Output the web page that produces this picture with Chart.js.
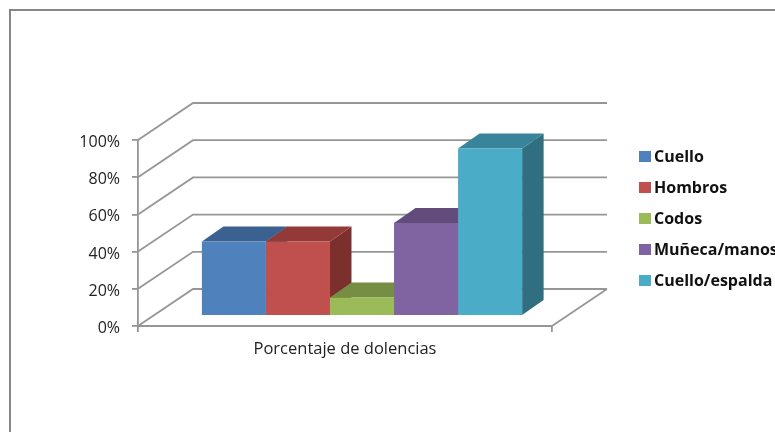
<!DOCTYPE html>
<html>
<head>
<meta charset="utf-8">
<title>Porcentaje de dolencias</title>
<script src="https://cdn.jsdelivr.net/npm/chart.js@4"></script>
<style>
html, body { margin: 0; padding: 0; width: 775px; height: 432px; overflow: hidden; background: #fff; }
canvas { display: block; }
#legend { position: absolute; left: 639px; top: 141px; white-space: nowrap; font: bold 16px "Open Sans"; color: #111; }
#legend div { height: 31px; line-height: 31px; }
#legend span { display: inline-block; width: 12px; height: 11px; margin-right: 3px; }
</style>
</head>
<body>
<canvas id="myChart" width="775" height="432"></canvas>
<div id="legend"></div>
<script>
const categories = ['Porcentaje de dolencias'];
const seriesNames = ['Cuello', 'Hombros', 'Codos', 'Muñeca/manos', 'Cuello/espalda'];
const seriesValues = [40, 40, 10, 50, 90];
const frontColors = ['#4F81BD', '#C0504D', '#9BBB59', '#8064A2', '#4BACC8'];
const topColors = ['#3A6190', '#933A38', '#768E43', '#624C7C', '#38859B'];
const sideColors = ['#2F5078', '#7C302E', '#637738', '#523F68', '#306E80'];

const lineColor = '#969696';
const wallX = 55, wallY = -37;      // depth of the floor/back wall
const barShiftX = 17, barShiftY = -10;  // bars stand in the middle of the floor
const barDepthX = 21.5, barDepthY = -15;

const frame3d = {
    id: 'frame3d',
    beforeDraw(chart) {
        // outer frame, only top and left show in the window
        const ctx = chart.ctx;
        ctx.save();
        ctx.strokeStyle = '#868686';
        ctx.lineWidth = 2;
        ctx.beginPath();
        ctx.moveTo(10, chart.height);
        ctx.lineTo(10, 10);
        ctx.lineTo(chart.width, 10);
        ctx.stroke();
        ctx.restore();
    },
    beforeDatasetsDraw(chart) {
        const ctx = chart.ctx;
        const area = chart.chartArea;
        const y = chart.scales.y;

        ctx.save();
        ctx.strokeStyle = lineColor;
        ctx.lineWidth = 1.8;
        y.ticks.forEach(function(t) {
            const py = y.getPixelForValue(t.value);
            ctx.beginPath();
            ctx.moveTo(area.left, py);
            ctx.lineTo(area.left + wallX, py + wallY);
            ctx.lineTo(area.right + wallX, py + wallY);
            ctx.stroke();
        });
        ctx.beginPath();
        ctx.moveTo(area.right, area.bottom);
        ctx.lineTo(area.right + wallX, area.bottom + wallY);
        ctx.stroke();

        // top and side faces, left to right so the next bar covers the previous one
        chart.data.datasets.forEach(function(ds, i) {
            const bar = chart.getDatasetMeta(i).data[0];
            const left = bar.x - bar.width / 2 + barShiftX;
            const right = bar.x + bar.width / 2 + barShiftX;
            const top = bar.y + barShiftY;
            const base = bar.base + barShiftY;

            ctx.fillStyle = sideColors[i];
            ctx.beginPath();
            ctx.moveTo(right, top);
            ctx.lineTo(right + barDepthX, top + barDepthY);
            ctx.lineTo(right + barDepthX, base + barDepthY);
            ctx.lineTo(right, base);
            ctx.closePath();
            ctx.fill();

            ctx.fillStyle = topColors[i];
            ctx.beginPath();
            ctx.moveTo(left, top);
            ctx.lineTo(left + barDepthX, top + barDepthY);
            ctx.lineTo(right + barDepthX, top + barDepthY);
            ctx.lineTo(right, top);
            ctx.closePath();
            ctx.fill();
        });
        ctx.restore();

        // the front faces are the library's own bars, moved onto the floor
        ctx.save();
        ctx.translate(barShiftX, barShiftY);
    },
    afterDatasetsDraw(chart) {
        chart.ctx.restore();
    }
};

const ctx = document.getElementById('myChart').getContext('2d');
window.myChart = new Chart(ctx, {
    type: 'bar',
    data: {
        labels: categories,
        datasets: seriesNames.map(function(name, i) {
            return {
                label: name,
                data: [seriesValues[i]],
                backgroundColor: frontColors[i],
                borderWidth: 0,
                barPercentage: 1,
                categoryPercentage: 0.7735,
                clip: false
            };
        })
    },
    plugins: [frame3d],
    options: {
        responsive: false,
        animation: false,
        layout: { padding: { top: 140, left: 0, right: 223, bottom: 0 } },
        plugins: {
            tooltip: { enabled: false },
            legend: { display: false }
        },
        scales: {
            x: {
                grid: { drawOnChartArea: false, color: lineColor, lineWidth: 1.8, tickLength: 6 },
                border: { color: lineColor, width: 2 },
                ticks: { color: '#222', padding: 7, font: { family: 'Open Sans', size: 16.5 } },
                afterFit(scale) { scale.height = 106; }
            },
            y: {
                min: 0,
                max: 100,
                grid: { drawOnChartArea: false, color: lineColor, lineWidth: 1.8, tickLength: 6 },
                border: { color: lineColor, width: 1.8 },
                ticks: {
                    stepSize: 20,
                    color: '#222',
                    padding: 12,
                    labelOffset: 2.5,
                    font: { family: 'Open Sans', size: 16 },
                    callback: function(v) { return v + '%'; }
                },
                afterFit(scale) { scale.width = 138; }
            }
        }
    }
});

// legend as plain html, the last entries run up to the window edge
seriesNames.forEach(function(name, i) {
    const row = document.createElement('div');
    const box = document.createElement('span');
    box.style.background = frontColors[i];
    row.appendChild(box);
    row.appendChild(document.createTextNode(name));
    document.getElementById('legend').appendChild(row);
});
</script>
</body>
</html>
